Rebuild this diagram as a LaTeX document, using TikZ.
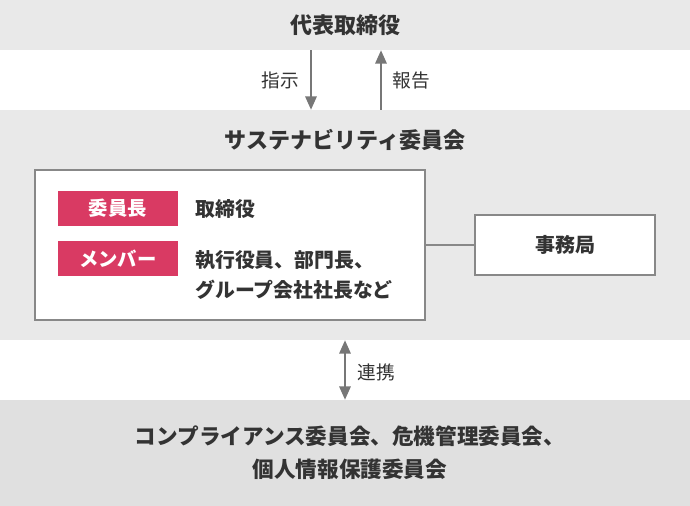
\documentclass[tikz,border=0pt]{standalone}
\usepackage{fontspec}
\setmainfont{Noto Sans CJK JP}
\usetikzlibrary{arrows.meta}
\definecolor{bandA}{HTML}{E9E9E9}
\definecolor{bandB}{HTML}{E0E0E0}
\definecolor{txt}{HTML}{333333}
\definecolor{pink}{HTML}{D93A63}
\definecolor{arrowc}{HTML}{777777}
\definecolor{framec}{HTML}{888888}
\tikzset{
  band/.style={rectangle, inner sep=0pt, minimum width=517.5pt, text=txt, font=\fontsize{16.5}{24.75}\selectfont\bfseries, align=center},
  whitebox/.style={rectangle, draw=framec, line width=0.9pt, fill=white, inner sep=0pt},
  tag/.style={rectangle, fill=pink, text=white, inner sep=0pt, minimum width=90pt, minimum height=26.25pt, font=\fontsize{14.5}{18}\selectfont\bfseries},
  body/.style={text=txt, inner sep=0pt, font=\fontsize{14.9}{22.5}\selectfont\bfseries, align=left},
  lab/.style={text=txt, inner sep=0pt, font=\fontsize{14}{18}\selectfont},
  arr/.style={draw=arrowc, line width=1.5pt, -{Triangle[width=8.5pt,length=10pt]}},
  darr/.style={draw=arrowc, line width=1.5pt, {Triangle[width=8.5pt,length=10pt]}-{Triangle[width=8.5pt,length=10pt]}},
}
\begin{document}
\begin{tikzpicture}[x=0.75pt,y=-0.75pt]
\useasboundingbox (0,0) rectangle (690,506);
\fill[white] (0,0) rectangle (690,506);
% bands
\node[band, fill=bandA, minimum height=37.5pt] (top) at (345,25) {代表取締役};
\node[band, fill=bandA, minimum height=172.5pt] (mid) at (345,225) {};
\node[band] (midtitle) at (345,140) {サステナビリティ委員会};
\node[band, fill=bandB, minimum height=79.5pt] (bot) at (345,453) {};
\node[band, minimum width=0pt, font=\fontsize{16.2}{24.75}\selectfont\bfseries] (bottxt) at (350,453) {コンプライアンス委員会、危機管理委員会、\\個人情報保護委員会};
% inner box
\node[whitebox, minimum width=292.5pt, minimum height=112.5pt] (inner) at (230,245) {};
\node[tag] (chair) at (118,208.5) {委員長};
\node[tag] (members) at (118,258.5) {メンバー};
\node[body, anchor=west] (chairtxt) at (195,209) {取締役};
\node[body, anchor=west] (memtxt) at (195,275) {執行役員、部門長、\\グループ会社社長など};
% office
\node[whitebox, minimum width=135pt, minimum height=45pt, text=txt, font=\fontsize{15}{18}\selectfont\bfseries] (office) at (565,245) {事務局};
\draw[draw=framec, line width=0.9pt] (inner.east) -- (office.west);
% arrows
\draw[arr] (top.south -| 311,0) -- (mid.north -| 311,0);
\draw[arr] (mid.north -| 381,0) -- (top.south -| 381,0);
\draw[darr] (mid.south -| 345,0) -- (bot.north -| 345,0);
\node[lab] (shiji) at (280,80) {指示};
\node[lab] (hokoku) at (411,80) {報告};
\node[lab] (renkei) at (376,372) {連携};
\end{tikzpicture}
\end{document}
